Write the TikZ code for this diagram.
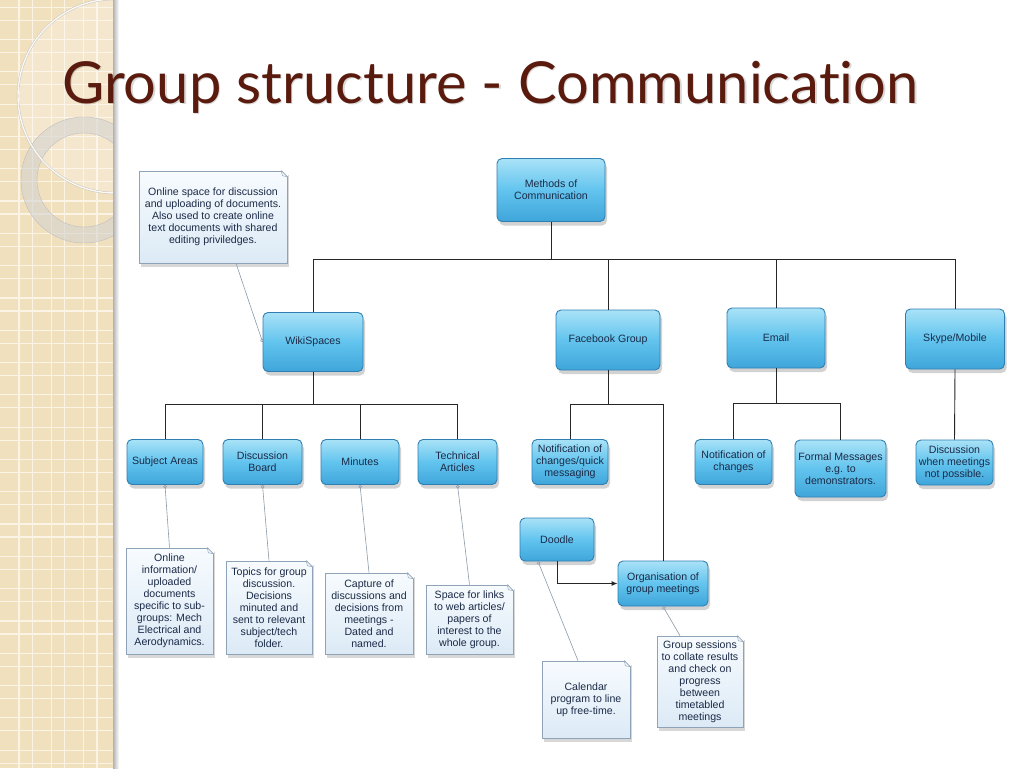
\documentclass[tikz,border=0pt]{standalone}
\usepackage{graphicx}
\usepackage{fontspec}
\setmainfont{Liberation Sans}
\newfontfamily\titlefont[Ligatures=NoCommon]{Lato}
\usetikzlibrary{shadows,arrows.meta,calc}
\definecolor{stripc}{HTML}{F1E0BE}
\definecolor{gridc}{HTML}{FBF4E4}
\definecolor{titlec}{HTML}{5A1B0E}
\definecolor{boxtop}{HTML}{A9E2F7}
\definecolor{boxmid}{HTML}{62C4EE}
\definecolor{boxbot}{HTML}{3FA5DA}
\definecolor{boxbd}{HTML}{2F7FB2}
\definecolor{txt}{HTML}{1B2A47}
\definecolor{notetop}{HTML}{F7FBFE}
\definecolor{notebot}{HTML}{DCEAF6}
\definecolor{notebd}{HTML}{8FA3B8}
\definecolor{linkc}{HTML}{8C9BA8}
\newcommand{\boxfont}{\fontsize{10.6}{12}\selectfont}
\newcommand{\titletext}{\titlefont Group structure - Communicat\kern0pt ion}
\tikzset{
  bluebox/.style={rounded corners=5pt, draw=boxbd, line width=0.9pt,
    top color=boxtop, bottom color=boxbot, middle color=boxmid,
    align=center, font=\boxfont, text=txt, inner sep=1.5pt,
    drop shadow={shadow xshift=2pt, shadow yshift=-4pt, opacity=0.35}},
  notebox/.style={draw=notebd, line width=0.6pt,
    top color=notetop, bottom color=notebot,
    align=center, font=\boxfont, text=txt, inner sep=1.5pt,
    drop shadow={shadow xshift=2pt, shadow yshift=-4pt, opacity=0.3}},
  tree/.style={draw=black!85, line width=0.9pt},
  notelink/.style={draw=linkc, line width=0.6pt, {Circle[open,length=3.5pt,width=3.5pt]}-},
}
\begin{document}
\begin{tikzpicture}[x=1pt,y=-1pt]
\useasboundingbox (0,0) rectangle (1024,768);
\fill[white] (0,0) rectangle (1024,768);
% left decorative strip
\fill[stripc] (0,0) rectangle (113,768);
\begin{scope}
  \clip (0,0) rectangle (113,768);
  \foreach \i in {0,...,24} {
    \draw[gridc, line width=1.2pt] (0,{7.2+32.3*\i}) -- (113,{7.2+32.3*\i});
    \draw[gridc, line width=1.2pt] (0,{20.2+32.3*\i}) -- (113,{20.2+32.3*\i});
  }
  \foreach \i in {0,...,3} {
    \draw[gridc, line width=1.2pt] ({19+32.3*\i},0) -- ({19+32.3*\i},768);
    \draw[gridc, line width=1.2pt] ({32.3+32.3*\i},0) -- ({32.3+32.3*\i},768);
  }
  \fill[white, opacity=0.25] (115,96) circle[radius=97];
  \fill[black!18, opacity=0.55, even odd rule] (84,180) circle[radius=63] (84,180) circle[radius=47];
  \draw[black!25, line width=0.4pt] (84,180) circle[radius=63];
  \draw[black!25, line width=0.4pt] (84,180) circle[radius=47];
  \draw[black!25, line width=2.2pt] (115,96) circle[radius=97];
  \draw[white!80!stripc, line width=1.4pt] (115,96) circle[radius=97];
\end{scope}
\shade[left color=black!30, right color=white] (113,0) rectangle (119,768);

% title
\node[anchor=base west, inner sep=0, text=black, opacity=0.15] at (63.5,104.5)
  {\resizebox{856pt}{!}{\titletext}};
\node[anchor=base west, inner sep=0, text=titlec] (title) at (62,103)
  {\resizebox{856pt}{!}{\titletext}};

% main boxes
\node[bluebox, minimum width=108pt, minimum height=63pt] (methods) at (551,190) {Methods of\\Communication};
\node[bluebox, minimum width=100pt, minimum height=59pt] (wiki) at (313,342) {WikiSpaces};
\node[bluebox, minimum width=104pt, minimum height=60pt] (fb) at (608,340) {Facebook Group};
\node[bluebox, minimum width=98pt, minimum height=60pt] (email) at (776,338) {Email};
\node[bluebox, minimum width=99pt, minimum height=60pt] (skype) at (955,339) {Skype/Mobile};

\node[bluebox, minimum width=76pt, minimum height=45pt] (subj) at (165,462) {Subject Areas};
\node[bluebox, minimum width=79pt, minimum height=45pt] (disc) at (262.5,462) {Discussion\\Board};
\node[bluebox, minimum width=78pt, minimum height=45pt] (minutes) at (360,462) {Minutes};
\node[bluebox, minimum width=79pt, minimum height=45pt] (tech) at (457.5,462) {Technical\\Articles};
\node[bluebox, minimum width=76pt, minimum height=45pt] (notif1) at (570,462) {Notification of\\changes/quick\\messaging};
\node[bluebox, minimum width=74pt, minimum height=43pt] (doodle) at (557,539.5) {Doodle};
\node[bluebox, minimum width=90pt, minimum height=45pt] (org) at (663,583.5) {Organisation of\\group meetings};
\node[bluebox, minimum width=77pt, minimum height=45pt] (notif2) at (733.5,462) {Notification of\\changes};
\node[bluebox, minimum width=91pt, minimum height=57pt] (formal) at (840.5,468.5) {Formal Messages\\e.g. to\\demonstrators.};
\node[bluebox, minimum width=77pt, minimum height=45pt] (discm) at (954.5,462.5) {Discussion\\when meetings\\not possible.};

% notes
\node[notebox, minimum width=148pt, minimum height=92pt] (topnote) at (213,217)
  {Online space for discussion\\and uploading of documents.\\Also used to create online\\text documents with shared\\editing priviledges.};
\node[notebox, minimum width=87pt, minimum height=106pt] (snote) at (169.5,601)
  {Online\\information/\\uploaded\\documents\\specific to sub-\\groups: Mech\\Electrical and\\Aerodynamics.};
\node[notebox, minimum width=86pt, minimum height=93pt] (dnote) at (269,607.5)
  {Topics for group\\discussion.\\Decisions\\minuted and\\sent to relevant\\subject/tech\\folder.};
\node[notebox, minimum width=88pt, minimum height=81pt] (mnote) at (369,613.5)
  {Capture of\\discussions and\\decisions from\\meetings -\\Dated and\\named.};
\node[notebox, minimum width=87pt, minimum height=69pt] (tnote) at (469.5,619.5)
  {Space for links\\to web articles/\\papers of\\interest to the\\whole group.};
\node[notebox, minimum width=88pt, minimum height=77pt] (cnote) at (586,699.5)
  {Calendar\\program to line\\up free-time.};
\node[notebox, minimum width=86pt, minimum height=91pt] (gnote) at (700,681.5)
  {Group sessions\\to collate results\\and check on\\progress\\between\\timetabled\\meetings};
\foreach \n in {topnote,snote,dnote,mnote,tnote,cnote,gnote} {
  \fill[white] ($(\n.north east)+(-6,-0.5)$) -- ($(\n.north east)+(0.5,-0.5)$) -- ($(\n.north east)+(0.5,6)$) -- cycle;
  \draw[notebd, line width=0.6pt] ($(\n.north east)+(-6,0)$) -- ($(\n.north east)+(0,6)$);
  \draw[notebd, line width=0.5pt] ($(\n.north east)+(-6,0)$) -- ($(\n.north east)+(-5,5)$) -- ($(\n.north east)+(0,6)$);
}

% tree connectors
\coordinate (bus1) at (551,259);
\draw[tree] (methods.south) -- (bus1);
\draw[tree] (bus1) -| (wiki.north);
\draw[tree] (bus1) -| (fb.north);
\draw[tree] (bus1) -| (email.north);
\draw[tree] (bus1) -| (skype.north);
\coordinate (wbus) at (313,404);
\draw[tree] (wiki.south) -- (wbus);
\draw[tree] (wbus) -| (subj.north);
\draw[tree] (wbus) -| (disc.north);
\draw[tree] (wbus) -| (minutes.north);
\draw[tree] (wbus) -| (tech.north);
\coordinate (fbus) at (608,404);
\draw[tree] (fb.south) -- (fbus);
\draw[tree] (fbus) -| (notif1.north);
\draw[tree] (fbus) -| (org.north);
\coordinate (ebus) at (776,403);
\draw[tree] (email.south) -- (ebus);
\draw[tree] (ebus) -| (notif2.north);
\draw[tree] (ebus) -| (formal.north);
\draw[tree] (skype.south) -- (discm.north);
\draw[tree, -{Latex[length=6pt,width=5pt]}] (doodle.south) |- (org.west);

% note links
\draw[notelink] (wiki.west) -- ($(topnote.south)+(23,0)$);
\draw[notelink] (subj.south) -- (snote.north);
\draw[notelink] (disc.south) -- (dnote.north);
\draw[notelink] (minutes.south) -- (mnote.north);
\draw[notelink] (tech.south) -- (tnote.north);
\draw[notelink] ($(doodle.south)+(-19,0)$) -- ($(cnote.north)+(-8,0)$);
\draw[notelink] (org.south) -- ($(gnote.north)+(-20,0)$);
\end{tikzpicture}
\end{document}
